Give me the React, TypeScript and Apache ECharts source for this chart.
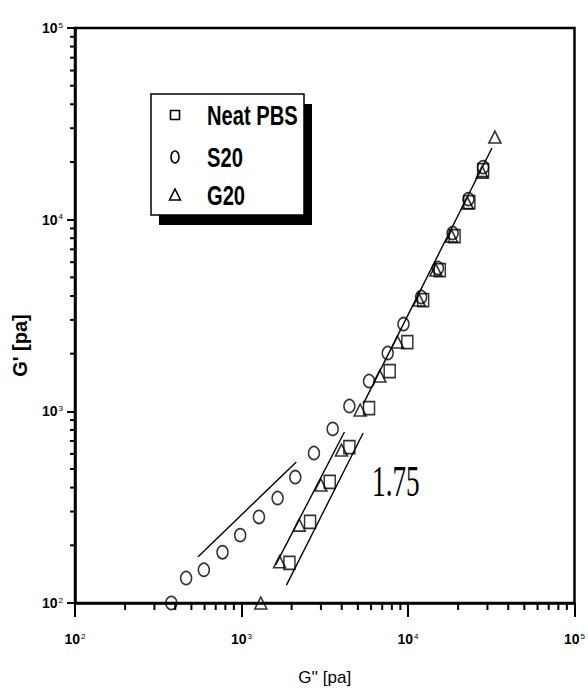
import React, { useEffect, useRef } from "react";
import * as echarts from "echarts";

// ---- data (G'' [pa], G' [pa]) ----
const neatPBS_x = [1940, 2581, 3388, 4446, 5834, 7765, 9910, 12330, 15530, 19050, 23370, 28260];
const neatPBS_y = [162, 265, 428, 651, 1040, 1623, 2299, 3808, 5458, 8206, 12360, 18140];

const s20_x = [379, 465, 594, 769, 982, 1273, 1648, 2104, 2724, 3530, 4446, 5834, 7556, 9397, 11996, 15126, 18540, 23054, 28260];
const s20_y = [100, 135, 149, 184, 226, 281, 353, 454, 606, 809, 1066, 1439, 2014, 2853, 3948, 5593, 8511, 12800, 18800];

const g20_x = [1306, 1693, 2222, 2997, 3986, 5163, 6776, 8655, 11670, 14720, 18290, 22740, 27880, 33270];
const g20_y = [100, 164, 255, 413, 628, 1016, 1528, 2299, 3808, 5458, 8206, 12210, 17710, 26980];

// fitted guide lines (endpoints)
const fitS20_x = [547, 2133];
const fitS20_y = [174, 544];
const fitLeft_x = [1603, 4152];
const fitLeft_y = [158, 780];
const fitRight_x = [1862, 5381];
const fitRight_y = [124, 771];
const fitMain_x = [5381, 31930];
const fitMain_y = [1091, 23640];

const slopeLabel = "1.75";
const seriesNames = ["Neat PBS", "S20", "G20"];

// axis ticks
const decadeStarts = [100, 1000, 10000];
const minorMultipliers = [2, 3, 4, 5, 6, 7, 8, 9];
const axisMin = 100;
const axisMax = 100000;
const tickExponents: Record<number, string> = { 100: "2", 1000: "3", 10000: "4", 100000: "5" };

const zip = (a: number[], b: number[]) => a.map((v, i) => [v, b[i]]);

const SANS = "'Liberation Sans', Arial, sans-serif";

export default function App() {
  const ref = useRef<HTMLDivElement>(null);

  useEffect(() => {
    if (!ref.current) return;
    const chart = echarts.init(ref.current, undefined, { renderer: "svg" });

    const minorTicks: number[] = [];
    decadeStarts.forEach((d) => minorMultipliers.forEach((m) => minorTicks.push(d * m)));

    const markerStyle = {
      color: "rgba(255,255,255,0)",
      borderColor: "#000",
      borderWidth: 1.6,
    };

    const fitLine = (xs: number[], ys: number[]) => ({
      type: "line",
      data: zip(xs, ys),
      symbol: "none",
      lineStyle: { color: "#000", width: 1.4 },
      silent: true,
      z: 1,
    });

    const tickFormatter = (v: number) => {
      const e = tickExponents[Math.round(v)] ?? "";
      return `{b|10}{s|${e}}`;
    };
    const richLabel = {
      b: { fontFamily: SANS, fontWeight: "bold", fontSize: 14, color: "#000" },
      s: { fontFamily: SANS, fontSize: 8, color: "#000", verticalAlign: "top", padding: [0, 0, 6, 1] },
    };

    // legend drawn as a framed box with a solid drop shadow
    const LX = 151, LY = 94, LW = 153, LH = 121;
    const rowY = [115, 157, 195];
    const symX = 175;
    const legendText = (i: number) => ({
      type: "text",
      x: 207,
      y: rowY[i],
      scaleX: 0.72,
      z: 12,
      style: {
        text: seriesNames[i],
        fontFamily: SANS,
        fontWeight: "bold",
        fontSize: 28,
        fill: "#000",
        verticalAlign: "middle",
      },
    });
    const symStyle = { fill: "none", stroke: "#000", lineWidth: 1.6 };

    chart.setOption({
      animation: false,
      backgroundColor: "#fff",
      grid: {
        left: 75,
        right: 5,
        top: 28,
        bottom: 91,
        show: true,
        borderColor: "#000",
        borderWidth: 2.5,
        backgroundColor: "transparent",
      },
      xAxis: {
        type: "log",
        logBase: 10,
        min: axisMin,
        max: axisMax,
        name: "G'' [pa]",
        nameLocation: "middle",
        nameGap: 66,
        nameTextStyle: { fontFamily: SANS, fontSize: 17, color: "#000" },
        axisLine: { lineStyle: { color: "#000", width: 2.5 } },
        axisTick: { inside: false, length: 14, lineStyle: { color: "#000", width: 2 } },
        axisLabel: { formatter: tickFormatter, rich: richLabel, margin: 29 },
        splitLine: { show: false },
      },
      yAxis: {
        type: "log",
        logBase: 10,
        min: axisMin,
        max: axisMax,
        name: "G' [pa]",
        nameLocation: "middle",
        nameRotate: 90,
        nameGap: 45,
        nameTextStyle: {
          fontFamily: SANS,
          fontWeight: "bold",
          fontSize: 20,
          color: "#000",
          padding: [0, 60, 0, 0],
        },
        axisLine: { lineStyle: { color: "#000", width: 2.5 } },
        axisTick: { inside: false, length: 8, lineStyle: { color: "#000", width: 2 } },
        axisLabel: { formatter: tickFormatter, rich: richLabel, margin: 12 },
        splitLine: { show: false },
      },
      graphic: [
        {
          type: "rect",
          shape: { x: LX + 8, y: LY + 10, width: LW, height: LH },
          style: { fill: "#000" },
          z: 10,
        },
        {
          type: "rect",
          shape: { x: LX, y: LY, width: LW, height: LH },
          style: { fill: "#fff", stroke: "#000", lineWidth: 1.5 },
          z: 11,
        },
        {
          type: "rect",
          z: 12,
          shape: { x: symX - 4.5, y: rowY[0] - 4.5, width: 9, height: 9 },
          style: symStyle,
        },
        {
          type: "ellipse",
          z: 12,
          shape: { cx: symX, cy: rowY[1], rx: 4, ry: 6 },
          style: symStyle,
        },
        {
          type: "polygon",
          z: 12,
          shape: {
            points: [
              [symX, rowY[2] - 6],
              [symX + 5.5, rowY[2] + 5],
              [symX - 5.5, rowY[2] + 5],
            ],
          },
          style: symStyle,
        },
        legendText(0),
        legendText(1),
        legendText(2),
        {
          type: "text",
          x: 372,
          y: 459,
          scaleX: 0.62,
          z: 12,
          style: {
            text: slopeLabel,
            fontFamily: "'Liberation Serif', 'DejaVu Serif', serif",
            fontSize: 44,
            fill: "#000",
          },
        },
      ],
      series: [
        fitLine(fitS20_x, fitS20_y),
        fitLine(fitLeft_x, fitLeft_y),
        fitLine(fitRight_x, fitRight_y),
        fitLine(fitMain_x, fitMain_y),
        {
          name: seriesNames[0],
          type: "scatter",
          data: zip(neatPBS_x, neatPBS_y),
          symbol: "rect",
          symbolSize: [11, 13],
          itemStyle: markerStyle,
          z: 3,
        },
        {
          name: seriesNames[1],
          type: "scatter",
          data: zip(s20_x, s20_y),
          symbol: "circle",
          symbolSize: [11, 13],
          itemStyle: markerStyle,
          z: 3,
        },
        {
          name: seriesNames[2],
          type: "scatter",
          data: zip(g20_x, g20_y),
          symbol: "triangle",
          symbolSize: [12, 12],
          itemStyle: markerStyle,
          z: 3,
        },
        {
          type: "custom",
          silent: true,
          clip: false,
          z: 5,
          data: minorTicks.map((t) => [t, axisMin]),
          renderItem: (_p: any, api: any) => {
            const p = api.coord([api.value(0), axisMin]);
            return {
              type: "line",
              shape: { x1: p[0], y1: p[1], x2: p[0], y2: p[1] + 7 },
              style: { stroke: "#000", lineWidth: 2 },
            };
          },
        },
        {
          type: "custom",
          silent: true,
          clip: false,
          z: 5,
          data: minorTicks.map((t) => [axisMin, t]),
          renderItem: (_p: any, api: any) => {
            const p = api.coord([axisMin, api.value(1)]);
            return {
              type: "line",
              shape: { x1: p[0] - 5, y1: p[1], x2: p[0], y2: p[1] },
              style: { stroke: "#000", lineWidth: 2 },
            };
          },
        },
      ],
    });

    return () => chart.dispose();
  }, []);

  return <div ref={ref} style={{ width: 588, height: 694, position: "absolute", left: 0, top: 0 }} />;
}
